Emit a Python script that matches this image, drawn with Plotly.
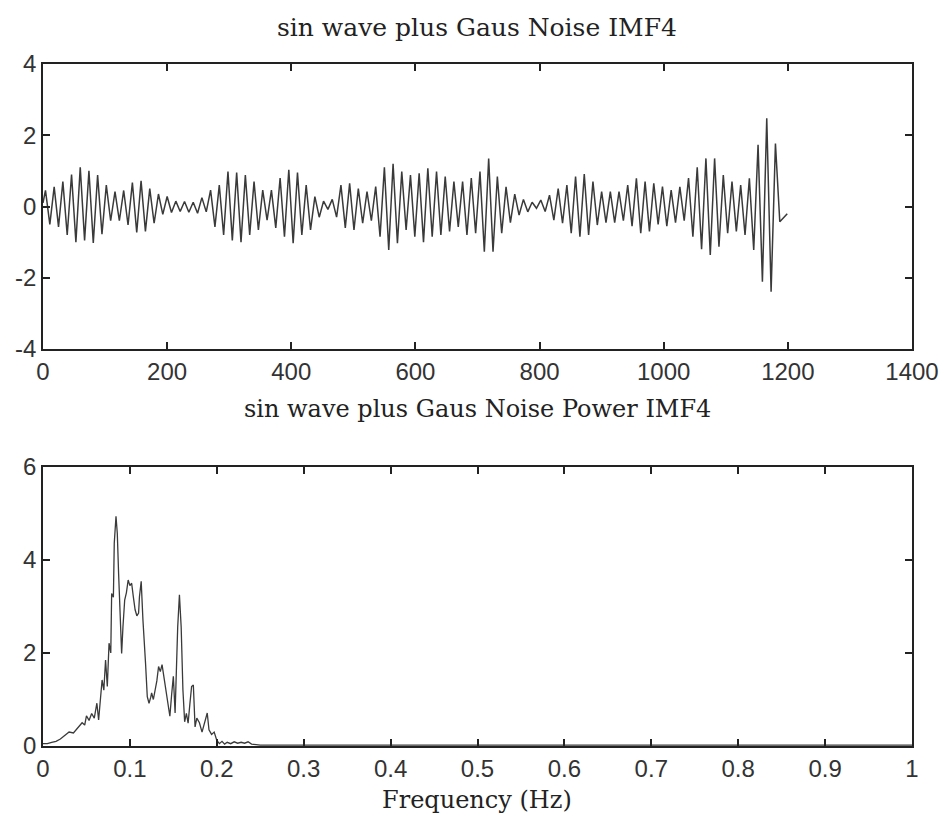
import plotly.graph_objects as go

# ---------------- data: IMF4 time series (extrema) ----------------
imf4_start = 0.1
imf4_end = -0.2
imf4_peaks = [0.45, 0.55, 0.7, 0.9, 1.1, 1.0, 0.88, 0.6, 0.42, 0.45,
              0.67, 0.72, 0.5, 0.35, 0.28, 0.15, 0.14, 0.12, 0.25, 0.46,
              0.6, 0.98, 0.95, 0.88, 0.7, 0.46, 0.46, 0.8, 1.03, 0.95,
              0.6, 0.28, 0.15, 0.2, 0.6, 0.65, 0.5, 0.42, 0.56, 1.1,
              1.2, 0.98, 0.88, 0.93, 1.07, 0.98, 0.84, 0.7, 0.7, 0.8,
              0.98, 1.35, 0.84, 0.55, 0.35, 0.2, 0.12, 0.18, 0.32, 0.5,
              0.6, 0.84, 0.91, 0.7, 0.42, 0.42, 0.42, 0.6, 0.79, 0.7,
              0.65, 0.56, 0.46, 0.55, 0.8, 1.1, 1.35, 1.35, 0.88, 0.7,
              0.6, 0.79, 1.73, 2.48, 1.77]
imf4_troughs = [-0.5, -0.57, -0.8, -1.0, -0.95, -1.02, -0.78, -0.4, -0.4, -0.52,
                -0.73, -0.7, -0.47, -0.22, -0.17, -0.14, -0.16, -0.19, -0.15, -0.57,
                -0.8, -0.95, -1.0, -0.8, -0.66, -0.38, -0.6, -0.85, -1.03, -0.8,
                -0.66, -0.3, -0.08, -0.3, -0.6, -0.66, -0.47, -0.4, -0.85, -1.22,
                -1.03, -0.66, -0.85, -1.0, -0.85, -0.8, -0.7, -0.57, -0.8, -0.75,
                -1.27, -1.27, -0.75, -0.45, -0.24, -0.15, -0.05, -0.14, -0.38, -0.47,
                -0.75, -0.85, -0.8, -0.52, -0.45, -0.45, -0.4, -0.55, -0.75, -0.7,
                -0.5, -0.55, -0.45, -0.4, -0.85, -1.2, -1.36, -1.13, -0.75, -0.7,
                -0.8, -1.22, -2.11, -2.39, -0.43]
imf4_period = 14      # samples per oscillation
imf4_last_sample = 1199

# ---------------- data: power spectrum of IMF4 ----------------
freq = [0.0, 0.005, 0.01, 0.015, 0.02, 0.025, 0.03, 0.035, 0.04, 0.045,
        0.048, 0.05, 0.053, 0.056, 0.059, 0.062, 0.064, 0.066, 0.068, 0.070,
        0.072, 0.074, 0.076, 0.078, 0.079, 0.081, 0.082, 0.084, 0.0855, 0.087,
        0.0886, 0.0905, 0.092, 0.094, 0.096, 0.098, 0.100, 0.102, 0.104, 0.106,
        0.108, 0.110, 0.111, 0.113, 0.115, 0.117, 0.118, 0.120, 0.122, 0.124,
        0.125, 0.127, 0.129, 0.131, 0.133, 0.135, 0.137, 0.139, 0.140, 0.142,
        0.144, 0.146, 0.148, 0.149, 0.150, 0.152, 0.155, 0.157, 0.159, 0.161,
        0.163, 0.165, 0.167, 0.169, 0.171, 0.173, 0.175, 0.177, 0.180, 0.183,
        0.186, 0.189, 0.191, 0.194, 0.197, 0.200, 0.203, 0.206, 0.209, 0.212,
        0.216, 0.220, 0.224, 0.228, 0.232, 0.236, 0.240, 0.250, 0.3, 0.4,
        0.5, 0.6, 0.7, 0.8, 0.9, 1.0]
power = [0.05, 0.05, 0.08, 0.1, 0.15, 0.22, 0.3, 0.28, 0.4, 0.5,
         0.45, 0.65, 0.55, 0.7, 0.6, 0.92, 0.56, 1.0, 1.42, 1.2,
         1.85, 1.28, 2.21, 2.0, 3.28, 3.2, 4.36, 4.94, 4.57, 3.71,
         2.71, 1.99, 2.56, 3.14, 3.3, 3.57, 3.45, 3.5, 3.2, 2.93,
         2.8, 2.86, 3.21, 3.54, 2.71, 2.2, 1.78, 1.06, 0.92, 1.05,
         1.14, 1.0, 1.17, 1.4, 1.71, 1.6, 1.75, 1.5, 1.28, 1.1,
         0.86, 0.64, 1.1, 1.28, 1.5, 0.71, 2.56, 3.25, 2.56, 1.21,
         0.52, 0.7, 0.49, 0.9, 1.28, 1.31, 0.41, 0.6, 0.5, 0.3,
         0.5, 0.71, 0.35, 0.25, 0.3, 0.12, 0.05, 0.1, 0.04, 0.08,
         0.05, 0.09, 0.06, 0.08, 0.06, 0.09, 0.04, 0.02, 0.02, 0.02,
         0.02, 0.02, 0.02, 0.02, 0.02, 0.02]

# tick labels
top_xticks = [0, 200, 400, 600, 800, 1000, 1200, 1400]
top_yticks = [-4, -2, 0, 2, 4]
top_ylabels = ["-4", "-2", "0", "2", "4"]
bot_xticks = [0, 0.1, 0.2, 0.3, 0.4, 0.5, 0.6, 0.7, 0.8, 0.9, 1]
bot_xlabels = ["0", "0.1", "0.2", "0.3", "0.4", "0.5", "0.6", "0.7", "0.8", "0.9", "1"]
bot_yticks = [0, 2, 4, 6]

# build the time-series polyline from the extrema
ts_x = [0]
ts_y = [imf4_start]
for c, (p, t) in enumerate(zip(imf4_peaks, imf4_troughs)):
    ts_x += [c * imf4_period + 4, c * imf4_period + 11]
    ts_y += [p, t]
ts_x.append(imf4_last_sample)
ts_y.append(imf4_end)

LINE = "#3a3a3a"
AX = "#222222"
TICKFONT = dict(family="Liberation Sans, Arial, sans-serif", size=24, color="#333333")
SERIF = "DejaVu Serif, serif"

fig = go.Figure()
fig.add_trace(go.Scatter(x=ts_x, y=ts_y, mode="lines",
                         line=dict(color=LINE, width=1.5), xaxis="x", yaxis="y",
                         showlegend=False, hoverinfo="skip"))
fig.add_trace(go.Scatter(x=freq, y=power, mode="lines",
                         line=dict(color=LINE, width=1.3), xaxis="x2", yaxis="y2",
                         showlegend=False, hoverinfo="skip"))

axis_common = dict(showline=True, linecolor=AX, linewidth=1.5, mirror="ticks",
                   ticks="inside", ticklen=7, tickwidth=1.5, tickcolor=AX,
                   showgrid=False, zeroline=False, tickfont=TICKFONT, automargin=False)

fig.update_layout(
    width=941, height=826,
    margin=dict(l=43, r=29, t=64, b=80),
    paper_bgcolor="white", plot_bgcolor="white",
    xaxis=dict(domain=[0, 1], range=[0, 1400], tickvals=top_xticks,
               anchor="y", **axis_common),
    yaxis=dict(domain=[0.5821, 1], range=[-4, 4], tickvals=top_yticks, ticktext=top_ylabels,
               anchor="x", **axis_common),
    xaxis2=dict(domain=[0, 1], range=[0, 1], tickvals=bot_xticks, ticktext=bot_xlabels,
                anchor="y2", **axis_common),
    yaxis2=dict(domain=[0, 0.4091], range=[0, 6], tickvals=bot_yticks,
                anchor="x2", **axis_common),
    annotations=[
        dict(text="sin wave plus Gaus Noise IMF4", x=477, y=27, xref="paper", yref="paper",
             showarrow=False, font=dict(family=SERIF, size=25, color="#222222")),
        dict(text="sin wave plus Gaus Noise Power IMF4", x=477, y=409, xref="paper", yref="paper",
             showarrow=False, font=dict(family=SERIF, size=24, color="#222222")),
        dict(text="Frequency (Hz)", x=477, y=800, xref="paper", yref="paper",
             showarrow=False, font=dict(family=SERIF, size=24, color="#222222")),
    ],
)

# place annotations in pixel coordinates converted to paper fractions
plot_w = 941 - 43 - 29
plot_h = 826 - 64 - 80
for ann in fig.layout.annotations:
    px, py = ann.x, ann.y
    ann.x = (px - 43) / plot_w
    ann.y = 1 - (py - 64) / plot_h
    ann.xanchor = "center"
    ann.yanchor = "middle"

fig.write_html("out.html")
